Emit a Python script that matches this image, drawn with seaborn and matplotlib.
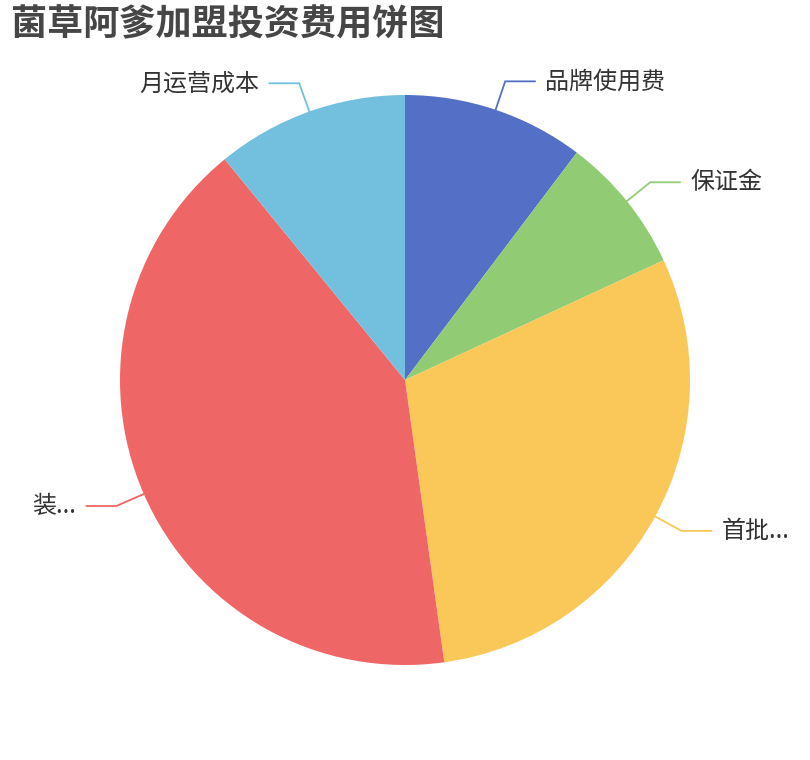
import numpy as np
import matplotlib
matplotlib.use('Agg')
import matplotlib.pyplot as plt
import seaborn as sns

# 데이터 (각 항목 비율, 그림에서 읽은 값)
categories = ['品牌使用费', '保证金', '首批...', '装...', '月运营成本']
values = [10.3, 7.8, 29.7, 41.3, 10.9]
palette = ['#5470c6', '#91cc75', '#fac858', '#ee6666', '#73c0de']
title = '菌草阿爹加盟投资费用饼图'

sns.set_theme(style='white')
plt.rcParams['font.family'] = ['Noto Sans CJK SC', 'DejaVu Sans']

# 픽셀 좌표계 그대로 쓰는 축
fig = plt.figure(figsize=(8.1, 7.6), dpi=100)
ax = fig.add_axes([0, 0, 1, 1])

cx, cy, r = 405, 380, 285
wedges, _ = ax.pie(values, colors=sns.color_palette(palette), startangle=90,
                   counterclock=False, center=(cx, cy), radius=r,
                   wedgeprops=dict(linewidth=0), frame=True)
ax.set_xlim(0, 810)
ax.set_ylim(0, 760)
ax.set_axis_off()

# 라벨 + 안내선
for w, name, col in zip(wedges, categories, palette):
    mid = np.deg2rad((w.theta1 + w.theta2) / 2)
    dx, dy = np.cos(mid), np.sin(mid)
    x0, y0 = cx + r * dx, cy + r * dy
    x1, y1 = cx + (r + 30) * dx, cy + (r + 30) * dy
    side = 1 if dx >= 0 else -1
    x2 = x1 + 30 * side
    ax.plot([x0, x1, x2], [y0, y1, y1], color=col, lw=1.3, solid_joinstyle='miter')
    ax.text(x2 + 10 * side, y1, name, ha='left' if side > 0 else 'right',
            va='center', fontsize=17.3, color='#333333')

ax.text(11, 735, title, fontsize=26, fontweight='bold', color='#464646',
        ha='left', va='center')

fig.savefig('out.png', dpi=100, facecolor='white')
